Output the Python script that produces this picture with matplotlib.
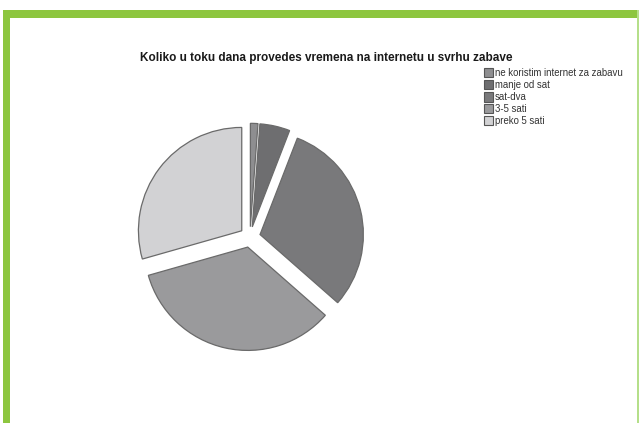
import matplotlib
matplotlib.use("Agg")
import matplotlib.pyplot as plt
from matplotlib.patches import Rectangle

plt.rcParams['font.family'] = ['Liberation Sans', 'DejaVu Sans']

# answers to the survey question (number of respondents)
labels = ["ne koristim internet za zabavu", "manje od sat", "sat-dva", "3-5 sati", "preko 5 sati"]
counts = [1, 4, 26, 29, 25]
colors = ["#8e8e90", "#6e6e70", "#79797b", "#9a9a9c", "#d2d2d4"]
title = "Koliko u toku dana provedes vremena na internetu u svrhu zabave"

W, H = 639, 423
fig = plt.figure(figsize=(W / 100, H / 100), dpi=100)
fig.patch.set_facecolor("white")

# green frame: thick bar on top and left, thin line on the right
green = "#8dc63f"
fig.add_artist(Rectangle((3 / W, (H - 18) / H), 1 - 3 / W, 8 / H, transform=fig.transFigure,
                         facecolor=green, edgecolor="none"))
fig.add_artist(Rectangle((3 / W, 0), 7 / W, (H - 10) / H, transform=fig.transFigure,
                         facecolor=green, edgecolor="none"))
fig.add_artist(Rectangle((637 / W, 0), 1.5 / W, (H - 10) / H, transform=fig.transFigure,
                         facecolor="#b5df8a", edgecolor="none"))

# pie axes, centred around (250, 237) px from top-left
cx, cy, half = 250, 237, 124
ax = fig.add_axes([(cx - half) / W, (H - cy - half) / H, 2 * half / W, 2 * half / H])
wedges, _ = ax.pie(counts, colors=colors, startangle=90, counterclock=False,
                   explode=[0.1] * len(counts),
                   wedgeprops=dict(edgecolor="#6a6a6a", linewidth=0.9))
ax.set_xlim(-1.2, 1.2)
ax.set_ylim(-1.2, 1.2)
ax.set_aspect("equal")
ax.axis("off")

fig.text(326 / W, 1 - 58 / H, title, ha="center", va="center",
         fontsize=8.5, fontweight="bold", color="#1a1a1a")

# legend block in the upper right
for i, (lab, col) in enumerate(zip(labels, colors)):
    y = 73 + i * 12
    fig.add_artist(Rectangle((484 / W, 1 - (y + 4.5) / H), 9 / W, 9 / H,
                             transform=fig.transFigure, facecolor=col,
                             edgecolor="#555555", linewidth=0.8))
    fig.text(495 / W, 1 - y / H, lab, ha="left", va="center",
             fontsize=6.9, color="#333333")

fig.savefig("out.png", dpi=100)
